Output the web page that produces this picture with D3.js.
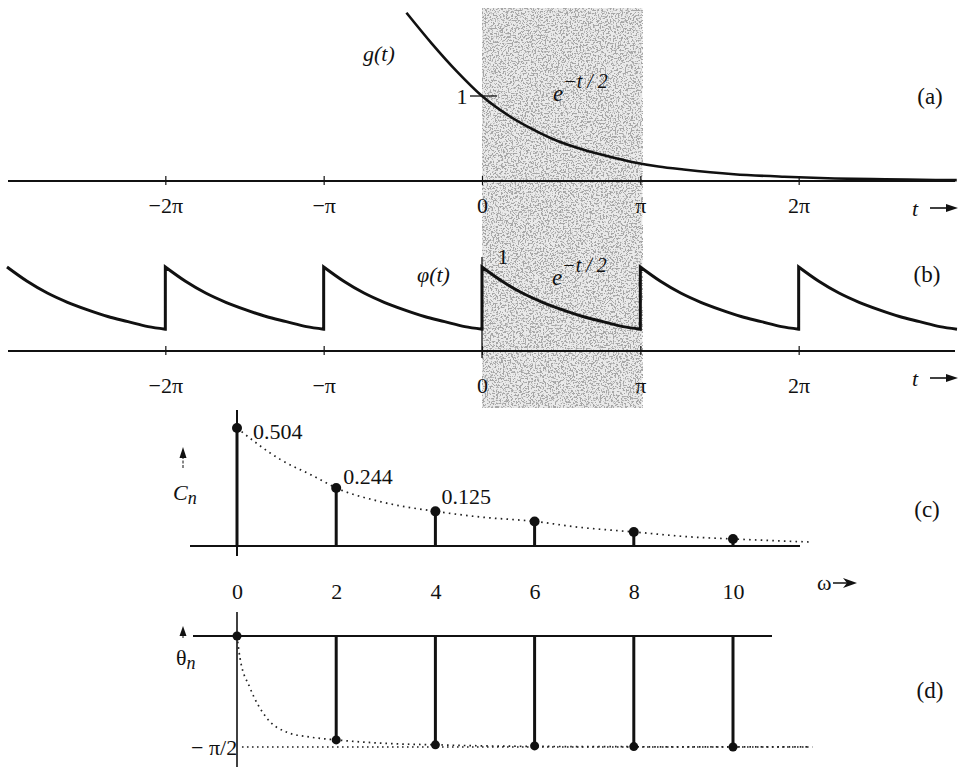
<!DOCTYPE html>
<html>
<head>
<meta charset="utf-8">
<script src="https://cdn.jsdelivr.net/npm/d3@7"></script>
<style>
  html,body{margin:0;padding:0;background:#fff;}
  svg{display:block;}
  text{font-family:"Liberation Serif","Times New Roman","DejaVu Serif",serif;fill:#111;}
</style>
</head>
<body>
<svg id="chart" width="959" height="767"></svg>
<script>
// ---------------- data ----------------
const tTicks = [-2, -1, 0, 1, 2];                 // multiples of pi
const tTickLabels = ["\u22122\u03c0", "\u2212\u03c0", "0", "\u03c0", "2\u03c0"];

// g(t)
const gT = [-1.5, -1.0, -0.5, 0, 0.5, 1.0, 1.5, 2.0, 2.5, 3.0, 3.5, 4.0, 5.0, 6.0, 7.0, 8.0, 9.0, 9.42];
const gV = [1.98, 1.62, 1.29, 1.0, 0.78, 0.61, 0.47, 0.37, 0.29, 0.22, 0.17, 0.135, 0.08, 0.05, 0.03, 0.02, 0.012, 0.01];

// one period of phi(t)
const phiT = [0, 0.4, 0.8, 1.2, 1.6, 2.0, 2.4, 2.8, 3.1416];
const phiV = [1.0, 0.83, 0.69, 0.58, 0.49, 0.41, 0.35, 0.29, 0.26];
const phiPeriods = [-3, -2, -1, 0, 1, 2];

// amplitude spectrum (c)
const omega = [0, 2, 4, 6, 8, 10];
const Cn = [0.504, 0.248, 0.148, 0.105, 0.06, 0.03];
const CnLabels = ["0.504", "0.244", "0.125"];
const CnEnvW = [0, 0.87, 1.53, 2, 2.88, 4, 4.9, 6, 6.9, 8, 9.2, 10, 11.55];
const CnEnvV = [0.504, 0.37, 0.30, 0.248, 0.19, 0.148, 0.124, 0.105, 0.08, 0.06, 0.038, 0.03, 0.017];
const omegaTickLabels = ["0", "2", "4", "6", "8", "10"];

// phase spectrum (d)
const theta = [0, -1.47, -1.54, -1.555, -1.565, -1.57];
const thEnvW = [0, 0.06, 0.26, 0.6, 1.0, 1.47, 2.0, 3.0, 4.0, 5.0, 6.0, 8.0, 10.0, 11.5];
const thEnvV = [0, -0.31, -0.73, -1.16, -1.36, -1.43, -1.47, -1.52, -1.54, -1.555, -1.562, -1.567, -1.57, -1.57];

// ---------------- drawing ----------------
const svg = d3.select("#chart");
const PI = Math.PI;
const FS = 22;

const xT = d3.scaleLinear().domain([-3 * PI, 3 * PI]).range([7, 957]);
const yA = d3.scaleLinear().domain([0, 1]).range([181, 96]);
const yB = d3.scaleLinear().domain([0, 1]).range([351, 267]);
const xW = d3.scaleLinear().domain([0, 10]).range([237, 733]);
const yC = d3.scaleLinear().domain([0, 0.504]).range([546, 428]);
const yD = d3.scaleLinear().domain([-PI / 2, 0]).range([747, 636]);

// stipple texture
const defs = svg.append("defs");
const f = defs.append("filter").attr("id", "stip")
  .attr("x", 0).attr("y", 0).attr("width", 1).attr("height", 1);
f.append("feTurbulence").attr("type", "fractalNoise").attr("baseFrequency", 0.6)
  .attr("numOctaves", 2).attr("seed", 5).attr("result", "n");
f.append("feColorMatrix").attr("in", "n").attr("type", "matrix")
  .attr("values", "0 0 0 0 0.38  0 0 0 0 0.38  0 0 0 0 0.38  9 0 0 0 -4.5");

// shaded region 0..pi
const shadeX0 = xT(0), shadeX1 = xT(PI) + 2;
svg.append("rect").attr("x", shadeX0).attr("y", 8).attr("width", shadeX1 - shadeX0).attr("height", 400)
  .attr("fill", "#eaeaea");
svg.append("rect").attr("x", shadeX0).attr("y", 8).attr("width", shadeX1 - shadeX0).attr("height", 400)
  .attr("fill", "#999").attr("filter", "url(#stip)");

function tAxis(y0, pad) {
  const ax = d3.axisBottom(xT).tickValues(tTicks.map(d => d * PI))
    .tickFormat((d, i) => tTickLabels[i]).tickSize(4).tickPadding(pad);
  const g = svg.append("g").attr("transform", `translate(0,${y0})`).call(ax);
  g.select(".domain").remove();
  g.attr("font-family", null).attr("font-size", null);
  g.selectAll(".tick line").attr("y1", -5).attr("y2", 4).attr("stroke", "#111").attr("stroke-width", 1.2);
  g.selectAll(".tick text").attr("font-size", FS).attr("fill", "#111");
  svg.append("line").attr("x1", 8).attr("x2", 955).attr("y1", y0).attr("y2", y0)
    .attr("stroke", "#111").attr("stroke-width", 1.8);
  // t arrow
  svg.append("text").attr("x", 915).attr("y", y0 + 35).attr("font-size", FS)
    .attr("font-style", "italic").attr("text-anchor", "middle").text("t");
  svg.append("line").attr("x1", 930).attr("x2", 948).attr("y1", y0 + 27).attr("y2", y0 + 27)
    .attr("stroke", "#111").attr("stroke-width", 1.6);
  svg.append("path").attr("d", `M946,${y0 + 23}L958,${y0 + 27}L946,${y0 + 31}Z`).attr("fill", "#111");
}

// ---- panel (a)
tAxis(181, 12);
const lineA = d3.line().x((d, i) => xT(gT[i])).y(d => yA(d)).curve(d3.curveMonotoneX);
svg.append("path").attr("d", lineA(gV)).attr("fill", "none").attr("stroke", "#111").attr("stroke-width", 2.6);
svg.append("line").attr("x1", 470).attr("x2", 497).attr("y1", yA(1)).attr("y2", yA(1))
  .attr("stroke", "#111").attr("stroke-width", 1.3);
svg.append("text").attr("x", 462).attr("y", yA(1) + 8).attr("font-size", FS).attr("text-anchor", "middle").text("1");
svg.append("text").attr("x", 363).attr("y", 61).attr("font-size", FS).attr("font-style", "italic").text("g(t)");
function expLabel(x, y) {
  const t = svg.append("text").attr("x", x).attr("y", y).attr("font-size", 23).attr("font-style", "italic");
  t.append("tspan").text("e");
  t.append("tspan").attr("dy", -13).attr("font-size", 20).text("\u2212t / 2");
}
expLabel(553, 101);
svg.append("text").attr("x", 930).attr("y", 104).attr("font-size", 23).attr("text-anchor", "middle").text("(a)");

// ---- panel (b)
tAxis(351, 22);
const lineB = d3.line().x(d => xT(d[0])).y(d => yB(d[1])).curve(d3.curveMonotoneX);
let dB = "";
phiPeriods.forEach((k, j) => {
  const pts = phiT.map((t, i) => [k * PI + t, phiV[i]]);
  let s = lineB(pts);
  if (j > 0) s = "L" + s.slice(1);
  dB += s;
});
svg.append("path").attr("d", dB).attr("fill", "none").attr("stroke", "#111")
  .attr("stroke-width", 3).attr("stroke-linejoin", "miter");
svg.append("line").attr("x1", xT(0)).attr("x2", xT(0)).attr("y1", 257).attr("y2", 358)
  .attr("stroke", "#111").attr("stroke-width", 1.3);
svg.append("text").attr("x", 417).attr("y", 282).attr("font-size", FS).attr("font-style", "italic").text("\u03c6(t)");
svg.append("text").attr("x", 503).attr("y", 264).attr("font-size", FS).attr("text-anchor", "middle").text("1");
expLabel(552, 285);
svg.append("text").attr("x", 927).attr("y", 282).attr("font-size", 23).attr("text-anchor", "middle").text("(b)");

// ---- panel (c)
svg.append("line").attr("x1", 190).attr("x2", 800).attr("y1", yC(0)).attr("y2", yC(0))
  .attr("stroke", "#111").attr("stroke-width", 1.8);
svg.append("line").attr("x1", xW(0)).attr("x2", xW(0)).attr("y1", 410).attr("y2", 556)
  .attr("stroke", "#111").attr("stroke-width", 2);
const axC = d3.axisBottom(xW).tickValues(omega).tickFormat((d, i) => omegaTickLabels[i]).tickSize(0).tickPadding(37);
const gC = svg.append("g").attr("transform", `translate(0,${yC(0)})`).call(axC);
gC.select(".domain").remove();
gC.attr("font-family", null).attr("font-size", null);
gC.selectAll(".tick text").attr("font-size", FS).attr("fill", "#111");
const envC = d3.line().x((d, i) => xW(CnEnvW[i])).y(d => yC(d)).curve(d3.curveMonotoneX);
svg.append("path").attr("d", envC(CnEnvV)).attr("fill", "none").attr("stroke", "#222")
  .attr("stroke-width", 1.7).attr("stroke-dasharray", "1.6,4.2");
svg.selectAll(".stemC").data(Cn).enter().append("line")
  .attr("x1", (d, i) => xW(omega[i])).attr("x2", (d, i) => xW(omega[i]))
  .attr("y1", yC(0)).attr("y2", d => yC(d)).attr("stroke", "#111").attr("stroke-width", 3);
svg.selectAll(".dotC").data(Cn).enter().append("circle")
  .attr("cx", (d, i) => xW(omega[i])).attr("cy", d => yC(d)).attr("r", 5).attr("fill", "#111");
const cLabOff = [[16, 11], [7, -4], [6, -7]];
CnLabels.forEach((s, i) => {
  svg.append("text").attr("x", xW(omega[i]) + cLabOff[i][0]).attr("y", yC(Cn[i]) + cLabOff[i][1])
    .attr("font-size", FS).text(s);
});
// C_n arrow + label
svg.append("line").attr("x1", 183).attr("x2", 183).attr("y1", 468).attr("y2", 453)
  .attr("stroke", "#111").attr("stroke-width", 1).attr("stroke-dasharray", "3,1.5");
svg.append("path").attr("d", "M179.5,458L183,447L186.5,458Z").attr("fill", "#111");
const cnT = svg.append("text").attr("x", 173).attr("y", 500).attr("font-size", FS).attr("font-style", "italic");
cnT.append("tspan").text("C");
cnT.append("tspan").attr("dy", 4).attr("font-size", 18).text("n");
svg.append("text").attr("x", 927).attr("y", 517).attr("font-size", 23).attr("text-anchor", "middle").text("(c)");
// omega arrow
svg.append("text").attr("x", 817).attr("y", 590).attr("font-size", FS).text("\u03c9");
svg.append("line").attr("x1", 833).attr("x2", 850).attr("y1", 583).attr("y2", 583).attr("stroke", "#111").attr("stroke-width", 1.5);
svg.append("path").attr("d", "M843,578L857,583L843,588L847,583Z").attr("fill", "#111");

// ---- panel (d)
svg.append("line").attr("x1", 193).attr("x2", 772).attr("y1", yD(0)).attr("y2", yD(0))
  .attr("stroke", "#111").attr("stroke-width", 1.8);
svg.append("line").attr("x1", xW(0)).attr("x2", xW(0)).attr("y1", 612).attr("y2", 767)
  .attr("stroke", "#111").attr("stroke-width", 1.6);
svg.append("line").attr("x1", xW(0.1)).attr("x2", xW(11.6)).attr("y1", yD(-PI / 2)).attr("y2", yD(-PI / 2))
  .attr("stroke", "#222").attr("stroke-width", 1.6).attr("stroke-dasharray", "1.6,3.4");
const envD = d3.line().x((d, i) => xW(thEnvW[i])).y(d => yD(d)).curve(d3.curveMonotoneX);
svg.append("path").attr("d", envD(thEnvV)).attr("fill", "none").attr("stroke", "#222")
  .attr("stroke-width", 1.7).attr("stroke-dasharray", "1.6,4");
svg.selectAll(".stemD").data(theta).enter().append("line")
  .attr("x1", (d, i) => xW(omega[i])).attr("x2", (d, i) => xW(omega[i]))
  .attr("y1", yD(0)).attr("y2", d => yD(d)).attr("stroke", "#111").attr("stroke-width", 3);
svg.selectAll(".dotD").data(theta).enter().append("circle")
  .attr("cx", (d, i) => xW(omega[i])).attr("cy", d => yD(d)).attr("r", 4.5).attr("fill", "#111");
svg.append("line").attr("x1", 183).attr("x2", 183).attr("y1", 638).attr("y2", 632)
  .attr("stroke", "#111").attr("stroke-width", 1);
svg.append("path").attr("d", "M179.5,636L183,626L186.5,636Z").attr("fill", "#111");
const thT = svg.append("text").attr("x", 176).attr("y", 665).attr("font-size", FS);
thT.append("tspan").text("\u03b8");
thT.append("tspan").attr("dy", 4).attr("font-size", 18).attr("font-style", "italic").text("n");
svg.append("text").attr("x", 191).attr("y", 755).attr("font-size", FS).text("\u2212 \u03c0/2");
svg.append("text").attr("x", 930).attr("y", 698).attr("font-size", 23).attr("text-anchor", "middle").text("(d)");
</script>
</body>
</html>
